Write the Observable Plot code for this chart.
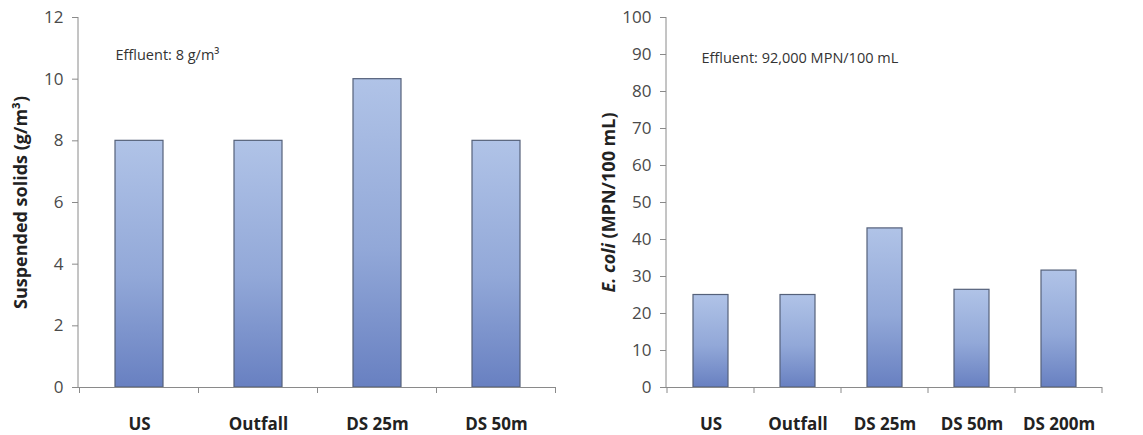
<!DOCTYPE html>
<html>
<head>
<meta charset="utf-8">
<script src="https://cdn.jsdelivr.net/npm/d3@7"></script>
<script src="https://cdn.jsdelivr.net/npm/@observablehq/plot@0.6"></script>
<style>
  body { margin: 0; background: #fff; }
  #charts { display: flex; width: 1143px; height: 435px; }
</style>
</head>
<body>
<div id="charts"></div>
<script>
// Suspended solids by sampling site
const solidsSites = ["US", "Outfall", "DS 25m", "DS 50m"];
const solidsValues = [8, 8, 10, 8];
const solidsTicks = [0, 2, 4, 6, 8, 10, 12];
const solidsLabel = "Suspended solids (g/m³)";
const solidsNote = "Effluent: 8 g/m³";

// E. coli by sampling site
const ecoliSites = ["US", "Outfall", "DS 25m", "DS 50m", "DS 200m"];
const ecoliValues = [25, 25, 43, 26.4, 31.6];
const ecoliTicks = [0, 10, 20, 30, 40, 50, 60, 70, 80, 90, 100];
const ecoliLabel = "E. coli (MPN/100 mL)";
const ecoliNote = "Effluent: 92,000 MPN/100 mL";

const FONT = "'Open Sans', Lato, sans-serif";
const AXIS_GREY = "#8a8a8a";

// Y spine plus tick marks on the band boundaries of the x axis
function bandFrame(cats) {
  return (index, scales, values, dims) => {
    const x = scales.x;
    const bw = typeof x.bandwidth === "function" ? x.bandwidth() : x.bandwidth;
    const step = typeof x.step === "function" ? x.step() : x(cats[1]) - x(cats[0]);
    const gap = (step - bw) / 2;
    const bottom = dims.height - dims.marginBottom;
    const g = d3.create("svg:g").attr("stroke", AXIS_GREY).attr("stroke-width", 1).attr("fill", "none");
    g.append("line")
      .attr("x1", dims.marginLeft).attr("x2", dims.marginLeft)
      .attr("y1", dims.marginTop).attr("y2", bottom);
    const bounds = cats.map((c) => x(c) - gap).concat([x(cats[cats.length - 1]) + bw + gap]);
    for (const b of bounds) {
      g.append("line").attr("x1", b).attr("x2", b).attr("y1", bottom).attr("y2", bottom + 6);
    }
    return g.node();
  };
}

function addGradient(svg, id) {
  const defs = d3.select(svg).insert("defs", ":first-child");
  const grad = defs.append("linearGradient")
    .attr("id", id).attr("x1", 0).attr("y1", 0).attr("x2", 0).attr("y2", 1);
  grad.append("stop").attr("offset", "0%").attr("stop-color", "#b0c3e7");
  grad.append("stop").attr("offset", "55%").attr("stop-color", "#92a8d8");
  grad.append("stop").attr("offset", "100%").attr("stop-color", "#6880c1");
}

function barPanel({sites, values, ticks, label, note, gradId, width, marginLeft, marginRight, noteDx, noteDy}) {
  const data = sites.map((site, i) => ({site, value: values[i]}));
  const plot = Plot.plot({
    width,
    height: 435,
    marginLeft,
    marginRight,
    marginTop: 17,
    marginBottom: 48,
    style: {fontFamily: FONT, background: "#fff", overflow: "visible"},
    x: {domain: sites, paddingInner: 0.6, paddingOuter: 0.3, label: null},
    y: {domain: [ticks[0], ticks[ticks.length - 1]], label: null},
    marks: [
      Plot.barY(data, {x: "site", y: "value", fill: `url(#${gradId})`, stroke: "#55617a", strokeWidth: 1.2}),
      Plot.ruleY([0], {stroke: AXIS_GREY, strokeWidth: 1}),
      Plot.axisY({ticks, tickSize: 6, tickPadding: 9, fontSize: 17, stroke: AXIS_GREY, fill: "#4a4a4a", label: null}),
      Plot.axisX({tickSize: 0, tickPadding: 30, fontSize: 17, fontWeight: "bold", fill: "#222", label: null}),
      bandFrame(sites),
      Plot.text([label], {
        frameAnchor: "left", textAnchor: "middle", rotate: -90, dx: -57,
        fontSize: 18, fontWeight: "bold", fill: "#222"
      }),
      Plot.text([note], {
        frameAnchor: "top-left", textAnchor: "start", dx: noteDx, dy: noteDy,
        fontSize: 14.5, fill: "#333"
      })
    ]
  });
  addGradient(plot, gradId);
  return plot;
}

const left = barPanel({
  sites: solidsSites, values: solidsValues, ticks: solidsTicks,
  label: solidsLabel, note: solidsNote, gradId: "solidsFill",
  width: 570, marginLeft: 78, marginRight: 14, noteDx: 37, noteDy: 32
});

const right = barPanel({
  sites: ecoliSites, values: ecoliValues, ticks: ecoliTicks,
  label: ecoliLabel, note: ecoliNote, gradId: "ecoliFill",
  width: 573, marginLeft: 96, marginRight: 41, noteDx: 35, noteDy: 35
});

// Italicise the organism name in the E. coli axis title
d3.select(right).selectAll("text").filter(function () { return this.textContent === ecoliLabel; })
  .each(function () {
    const t = d3.select(this);
    t.text(null);
    t.append("tspan").attr("font-style", "italic").text("E. coli");
    t.append("tspan").text(" (MPN/100 mL)");
  });

document.getElementById("charts").append(left, right);
</script>
</body>
</html>
